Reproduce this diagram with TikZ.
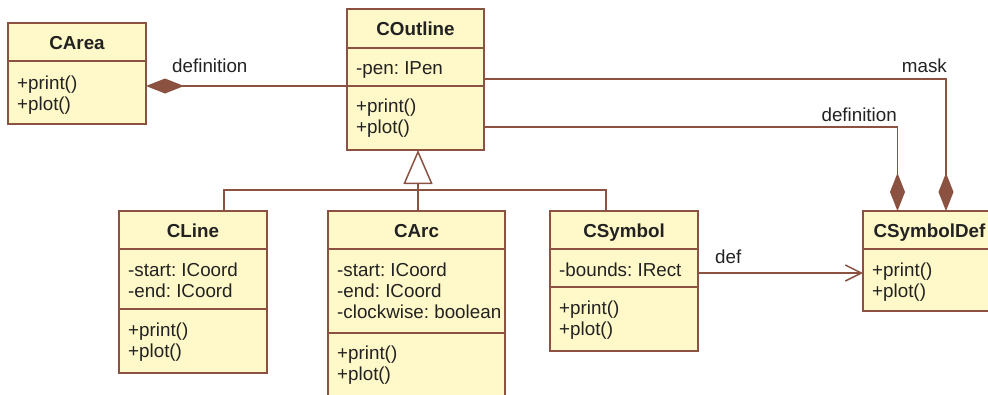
\documentclass[tikz,border=0pt]{standalone}
\usepackage{fontspec}
\setmainfont{Liberation Sans}
\usetikzlibrary{arrows.meta,calc}
\frenchspacing
\definecolor{umlbrown}{RGB}{139,82,66}
\definecolor{umlfill}{RGB}{255,248,200}
\definecolor{umltext}{RGB}{34,34,34}
\tikzset{
  clsbox/.style={draw=umlbrown, fill=umlfill, line width=1.8pt, rectangle, inner sep=0pt, outer sep=0pt, anchor=north west},
  ttl/.style={anchor=base, inner sep=0pt, text=umltext, font=\fontsize{18.8}{22}\selectfont\bfseries},
  txt/.style={anchor=base west, inner sep=0pt, text=umltext, font=\fontsize{18.8}{22}\selectfont\frenchspacing},
  lbl/.style={inner sep=0pt, text=umltext, font=\fontsize{18.8}{22}\selectfont},
  divline/.style={draw=umlbrown, line width=1.6pt},
  assoc/.style={draw=umlbrown, line width=1.5pt},
  compo/.style={assoc, -{Diamond[length=38pt,width=15pt,fill=umlbrown]}},
  navig/.style={assoc, -{Straight Barb[length=16pt,width=16pt,line width=1.5pt]}},
  inherit/.style={assoc, -{Triangle[open,length=34pt,width=29pt,fill=white,line width=1.5pt]}},
}
\newcommand\umlclass[6]{%
  \node[clsbox, minimum width=#4pt, minimum height=#5pt] (#1) at (#2,#3) {};
  \node[ttl] (#1-t) at ([yshift=-26.5pt]#1.north) {#6};
}
\newcommand\umldiv[2]{%
  \draw[divline] ([yshift=-#2pt]#1.north west) -- ([yshift=-#2pt]#1.north east);
}
\newcommand\umltext[4]{%
  \node[txt] (#2) at ([xshift=9pt,yshift=-#3pt]#1.north west) {#4};
}
\begin{document}
\begin{tikzpicture}[x=1pt,y=-1pt]
\useasboundingbox (0,0) rectangle (988,394);
\clip (0,0) rectangle (988,394);

% CArea
\umlclass{carea}{8}{23}{138}{101}{CArea}
\umldiv{carea}{38}
\umltext{carea}{carea-m1}{66}{+print()}
\umltext{carea}{carea-m2}{87}{+plot()}

% COutline
\umlclass{coutline}{347}{9}{137}{141}{COutline}
\umldiv{coutline}{39}
\umldiv{coutline}{77}
\umltext{coutline}{coutline-a1}{65}{-pen: IPen}
\umltext{coutline}{coutline-m1}{103}{+print()}
\umltext{coutline}{coutline-m2}{124}{+plot()}

% CLine
\umlclass{cline}{119}{211}{148}{162}{CLine}
\umldiv{cline}{38}
\umldiv{cline}{98}
\umltext{cline}{cline-a1}{65}{-start: ICoord}
\umltext{cline}{cline-a2}{86}{-end: ICoord}
\umltext{cline}{cline-m1}{125}{+print()}
\umltext{cline}{cline-m2}{146}{+plot()}

% CArc
\umlclass{carc}{328}{211}{177}{200}{CArc}
\umldiv{carc}{38}
\umldiv{carc}{122}
\umltext{carc}{carc-a1}{65}{-start: ICoord}
\umltext{carc}{carc-a2}{86}{-end: ICoord}
\umltext{carc}{carc-a3}{107}{-clockwise: boolean}
\umltext{carc}{carc-m1}{148}{+print()}
\umltext{carc}{carc-m2}{169}{+plot()}

% CSymbol
\umlclass{csymbol}{550}{211}{148}{140}{CSymbol}
\umldiv{csymbol}{38}
\umldiv{csymbol}{76}
\umltext{csymbol}{csymbol-a1}{65}{-bounds: IRect}
\umltext{csymbol}{csymbol-m1}{103}{+print()}
\umltext{csymbol}{csymbol-m2}{124}{+plot()}

% CSymbolDef
\umlclass{csymboldef}{863}{211}{133}{100}{CSymbolDef}
\umldiv{csymboldef}{38}
\umltext{csymboldef}{csymboldef-m1}{65}{+print()}
\umltext{csymboldef}{csymboldef-m2}{86}{+plot()}

% composition CArea <- COutline
\draw[compo] ([yshift=-77pt]coutline.north west) -- ([yshift=-63pt]carea.north east);
\node[lbl, anchor=base west] (lbl-def1) at (172,72) {definition};

% mask
\draw[compo] ([yshift=-70pt]coutline.north east) -| ([xshift=83pt]csymboldef.north west);
\node[lbl, anchor=base east] (lbl-mask) at (947,72) {mask};

% definition
\draw[compo] ([yshift=-118pt]coutline.north east) -| ([xshift=34.5pt]csymboldef.north west);
\node[lbl, anchor=base east] (lbl-def2) at (897,121) {definition};

% def navigation
\draw[navig] ([yshift=-62pt]csymbol.north east) -- ([yshift=-62pt]csymboldef.north west);
\node[lbl, anchor=base west] (lbl-def3) at (715,263) {def};

% inheritance
\coordinate (bar) at (0,190);
\draw[inherit] ([xshift=90pt]carc.north west) -- ([xshift=71pt]coutline.south west);
\draw[assoc] ([xshift=105pt]cline.north west) -- ([xshift=105pt]cline.north west |- bar)
  -- ([xshift=56pt]csymbol.north west |- bar) -- ([xshift=56pt]csymbol.north west);
\end{tikzpicture}
\end{document}
